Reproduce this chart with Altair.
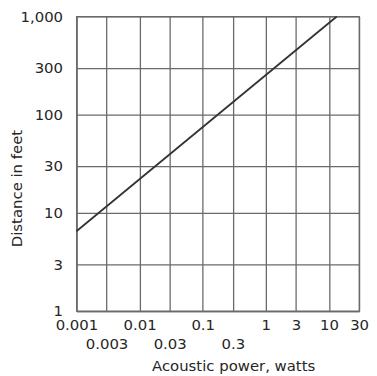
import altair as alt
import pandas as pd

# Data (a straight line on the log-log grid)
power = [0.001, 13.3]
distance = [6.5, 1000]

x_ticks = [0.001, 0.003, 0.01, 0.03, 0.1, 0.3, 1, 3, 10, 30]
x_second_row = [0.003, 0.03, 0.3]
y_ticks = [1, 3, 10, 30, 100, 300, 1000]

df = pd.DataFrame({"power": power, "distance": distance})

FONT = "DejaVu Sans"
GRID = "#6a6a6a"
INK = "#262626"

second_row = "[" + ",".join(str(v) for v in x_second_row) + "]"

chart = (
    alt.Chart(df)
    .mark_line(color="#333333", strokeWidth=1.8)
    .encode(
        x=alt.X(
            "power:Q",
            scale=alt.Scale(type="log", domain=[0.001, 30], nice=False),
            axis=alt.Axis(
                values=x_ticks,
                title="Acoustic power, watts",
                labelExpr=f"indexof({second_row}, datum.value) >= 0 ? ['', format(datum.value, '~g')] : format(datum.value, '~g')",
                labelLineHeight=19,
                labelPadding=7,
                labelOverlap=False,
                labelFlush=False,
                ticks=False,
                titleX=158,
                titleY=55,
                titleBaseline="middle",
            ),
        ),
        y=alt.Y(
            "distance:Q",
            scale=alt.Scale(type="log", domain=[1, 1000], nice=False),
            axis=alt.Axis(
                values=y_ticks,
                title="Distance in feet",
                labelExpr="format(datum.value, ',')",
                labelPadding=14,
                labelOverlap=False,
                labelFlush=False,
                ticks=False,
                titleX=-60,
                titleY=173,
                titleBaseline="middle",
            ),
        ),
    )
    .properties(
        width=285,
        height=297,
        autosize=alt.AutoSizeParams(type="none"),
        padding={"left": 69, "top": 7, "right": 10, "bottom": 68},
    )
    .configure_view(stroke=GRID, strokeWidth=1.3)
    .configure_axis(
        grid=True,
        gridColor=GRID,
        gridOpacity=1,
        gridWidth=1.3,
        domainColor=GRID,
        domainWidth=1.3,
        labelFont=FONT,
        labelFontSize=15,
        labelColor=INK,
        titleFont=FONT,
        titleFontSize=15,
        titleFontWeight="normal",
        titleColor=INK,
    )
)

chart.save("out.html", embed_options={"renderer": "svg", "actions": False})
